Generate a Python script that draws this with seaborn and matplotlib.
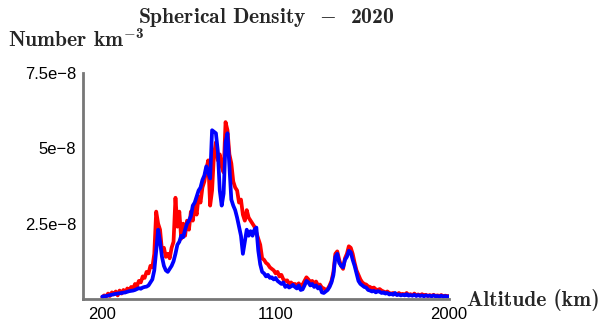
import matplotlib
matplotlib.use("Agg")
import matplotlib.pyplot as plt
import seaborn as sns
import pandas as pd
import numpy as np
from matplotlib.ticker import FixedLocator, FixedFormatter

# ---------------- data (density in units of 1e-8 per km^3) ----------------
altitude_km = list(range(200, 2001, 10))

blue_density = [
    0.08, 0.09, 0.10, 0.11, 0.13, 0.14, 0.16, 0.17, 0.18, 0.19,
    0.20, 0.21, 0.22, 0.24, 0.26, 0.27, 0.28, 0.30, 0.33, 0.36,
    0.34, 0.38, 0.40, 0.41, 0.45, 0.55, 0.65, 0.95, 1.60, 2.30,
    1.90, 1.40, 1.10, 0.95, 0.90, 1.00, 1.10, 1.25, 1.50, 1.80,
    1.90, 2.10, 2.05, 2.30, 2.50, 2.60, 2.75, 3.10, 3.20, 3.40,
    3.60, 3.70, 3.95, 4.10, 4.40, 4.20, 4.00, 5.60, 5.55, 5.50,
    4.90, 3.60, 3.10, 3.50, 5.20, 5.50, 4.40, 3.30, 3.10, 2.95,
    2.70, 2.40, 2.10, 1.50, 1.90, 2.30, 2.10, 2.25, 2.10, 2.30,
    2.37, 1.60, 1.15, 0.90, 0.85, 0.75, 0.80, 0.70, 0.72, 0.65,
    0.70, 0.60, 0.55, 0.50, 0.55, 0.40, 0.45, 0.38, 0.42, 0.47,
    0.40, 0.35, 0.45, 0.30, 0.32, 0.45, 0.60, 0.55, 0.45, 0.50,
    0.40, 0.45, 0.35, 0.40, 0.22, 0.20, 0.25, 0.30, 0.40, 0.55,
    0.80, 1.40, 1.50, 1.20, 1.10, 1.05, 1.30, 1.40, 1.60, 1.55,
    1.30, 1.10, 0.85, 0.60, 0.50, 0.45, 0.40, 0.38, 0.30, 0.28,
    0.25, 0.27, 0.22, 0.26, 0.24, 0.20, 0.22, 0.18, 0.20, 0.15,
    0.17, 0.14, 0.20, 0.13, 0.15, 0.12, 0.14, 0.12, 0.16, 0.11,
    0.13, 0.11, 0.14, 0.10, 0.13, 0.10, 0.12, 0.09, 0.12, 0.10,
    0.11, 0.09, 0.12, 0.09, 0.10, 0.08, 0.11, 0.08, 0.10, 0.08,
    0.09,
]

red_density = [
    0.06, 0.12, 0.08, 0.18, 0.10, 0.22, 0.15, 0.25, 0.12, 0.28,
    0.18, 0.30, 0.22, 0.35, 0.28, 0.40, 0.33, 0.50, 0.42, 0.60,
    0.55, 0.75, 0.70, 0.90, 0.85, 1.10, 1.05, 1.50, 2.90, 2.50,
    2.30, 1.60, 1.70, 1.40, 1.50, 1.35, 1.70, 1.90, 3.36, 2.40,
    2.90, 2.00, 2.50, 2.10, 2.60, 2.30, 2.90, 2.60, 3.10, 2.80,
    3.40, 3.20, 3.70, 3.90, 4.30, 4.60, 3.10, 3.60, 4.80, 5.20,
    4.60, 4.80, 4.40, 4.20, 5.87, 5.60, 4.80, 4.50, 3.90, 3.70,
    3.60, 3.20, 3.30, 2.80, 2.60, 2.95, 2.70, 2.60, 2.50, 2.40,
    2.20, 2.00, 1.80, 1.35, 1.30, 1.20, 1.15, 1.05, 1.00, 0.95,
    0.85, 0.90, 0.75, 0.80, 0.65, 0.60, 0.62, 0.50, 0.55, 0.48,
    0.50, 0.45, 0.52, 0.42, 0.48, 0.60, 0.72, 0.65, 0.55, 0.60,
    0.50, 0.58, 0.45, 0.48, 0.38, 0.35, 0.30, 0.33, 0.45, 0.60,
    0.90, 1.50, 1.58, 1.30, 1.10, 1.00, 1.35, 1.50, 1.75, 1.70,
    1.50, 1.20, 0.95, 0.80, 0.65, 0.55, 0.50, 0.48, 0.42, 0.40,
    0.35, 0.38, 0.32, 0.30, 0.33, 0.28, 0.25, 0.22, 0.25, 0.20,
    0.18, 0.20, 0.16, 0.15, 0.20, 0.14, 0.17, 0.13, 0.20, 0.13,
    0.16, 0.12, 0.18, 0.12, 0.15, 0.12, 0.16, 0.11, 0.14, 0.10,
    0.13, 0.10, 0.14, 0.10, 0.12, 0.10, 0.13, 0.09, 0.11, 0.10,
    0.09,
]

unit = 1e-8
x_ticks = [200, 1100, 2000]
x_tick_labels = ["200", "1100", "2000"]
y_ticks = [2.5e-8, 5e-8, 7.5e-8]
y_tick_labels = ["2.5e\u22128", "5e\u22128", "7.5e\u22128"]

df = pd.DataFrame({
    "altitude": altitude_km * 2,
    "density": [v * unit for v in red_density] + [v * unit for v in blue_density],
    "series": ["red"] * len(red_density) + ["blue"] * len(blue_density),
})

# ---------------- style ----------------
sns.set_style("white")
plt.rcParams["mathtext.fontset"] = "cm"
plt.rcParams["font.family"] = ["Liberation Sans", "DejaVu Sans"]

fig = plt.figure(figsize=(6.10, 3.23), dpi=100)
ax = fig.add_axes([83 / 610, 1 - 299 / 323, (449 - 83) / 610, (299 - 73) / 323])

sns.lineplot(data=df, x="altitude", y="density", hue="series",
             palette={"red": "#ff0000", "blue": "#0000ff"},
             estimator=None, sort=False, linewidth=2.7, legend=False, ax=ax)

ax.set_xlim(100, 2000)
ax.set_ylim(0, 7.5e-8)
ax.xaxis.set_major_locator(FixedLocator(x_ticks))
ax.xaxis.set_major_formatter(FixedFormatter(x_tick_labels))
ax.yaxis.set_major_locator(FixedLocator(y_ticks))
ax.yaxis.set_major_formatter(FixedFormatter(y_tick_labels))
ax.set_xlabel("")
ax.set_ylabel("")

spine_col = "#777777"
for s in ["top", "right"]:
    ax.spines[s].set_visible(False)
for s in ["left", "bottom"]:
    ax.spines[s].set_color(spine_col)
    ax.spines[s].set_linewidth(2.0)
ax.tick_params(axis="both", direction="in", length=4, width=1.2,
               color=spine_col, labelsize=12, labelcolor="black", pad=6)
ax.tick_params(axis="y", pad=5)

# texts (bold Computer Modern)
bold_cm = dict(family="cmb10", fontsize=15.5)
fig.text(266 / 610, 1 - 23 / 323, "Spherical Density  $-$  2020",
         ha="center", va="baseline", **bold_cm)
fig.text(8 / 610, 1 - 47 / 323, "Number km$^{-\\mathdefault{3}}$",
         ha="left", va="baseline", **bold_cm)
fig.text(467 / 610, 1 - 306 / 323, "Altitude (km)",
         ha="left", va="baseline", **bold_cm)

fig.savefig("out.png", dpi=100)
